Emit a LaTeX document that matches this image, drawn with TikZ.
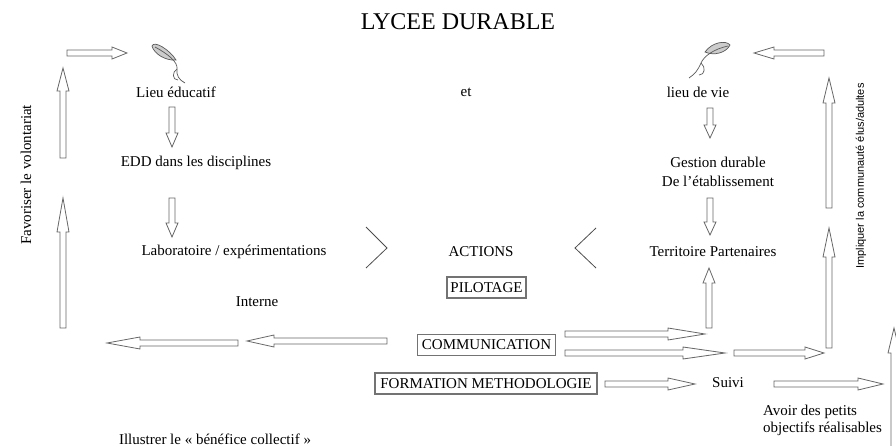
\documentclass[tikz,border=0pt]{standalone}
\usepackage{fontspec}
\setmainfont{Liberation Serif}
\newfontfamily\sansf{Liberation Sans}
% horizontal block arrow: tail x, tip x, y, head length
\newcommand\harr[4]{%
  \pgfmathsetmacro\hd{(#2>#1)?1:-1}%
  \pgfmathsetmacro\hb{#2-\hd*#4}%
  \draw[barr] (#1,#3-3) -- (\hb,#3-3) -- (\hb,#3-6) -- (#2,#3) -- (\hb,#3+6) -- (\hb,#3+3) -- (#1,#3+3) -- cycle;}
% vertical block arrow: tail y, tip y, x, head length
\newcommand\varr[4]{%
  \pgfmathsetmacro\vd{(#2>#1)?1:-1}%
  \pgfmathsetmacro\vb{#2-\vd*#4}%
  \draw[barr] (#3-3,#1) -- (#3-3,\vb) -- (#3-6,\vb) -- (#3,#2) -- (#3+6,\vb) -- (#3+3,\vb) -- (#3+3,#1) -- cycle;}
\begin{document}
\begin{tikzpicture}[x=1pt,y=-1pt,
  txt/.style={font=\fontsize{15}{19}\selectfont, inner sep=0pt},
  boxed/.style={draw=black!55, line width=1.1pt, inner sep=0pt, minimum height=21pt, font=\fontsize{15}{18}\selectfont},
  barr/.style={draw=black!60, line width=0.8pt, fill=white, line join=miter},
  chev/.style={draw=black!70, line width=0.8pt},
  quill/.style={draw=black!65, line width=0.7pt},
  blade/.style={draw=black!65, fill=black!20, line width=0.7pt}]
\useasboundingbox (0,0) rectangle (896,446);
\clip (0,0) rectangle (896,446);

% texts
\node[txt, font=\fontsize{24}{28}\selectfont] (title) at (458,22) {LYCEE DURABLE};
\node[txt] (lieu) at (176,92) {Lieu éducatif};
\node[txt] (et) at (466,92) {et};
\node[txt] (vie) at (698,92) {lieu de vie};
\node[txt] (edd) at (196,163) {EDD dans les disciplines};
\node[txt, align=center] (gest) at (718,172) {Gestion durable\\ De l’établissement};
\node[txt] (labo) at (234,252) {Laboratoire / expérimentations};
\node[txt] (actions) at (481,252) {ACTIONS};
\node[txt] (terr) at (713,252) {Territoire Partenaires};
\node[boxed, minimum width=79pt] (pilot) at (486.5,287.5) {PILOTAGE};
\node[txt] (interne) at (257,302) {Interne};
\node[boxed, minimum width=138pt] (comm) at (486.5,345) {COMMUNICATION};
\node[boxed, minimum width=222pt] (form) at (486,383.5) {FORMATION METHODOLOGIE};
\node[txt] (suivi) at (728,383) {Suivi};
\node[txt, align=left, anchor=west, font=\fontsize{15}{17}\selectfont] (avoir) at (763,420) {Avoir des petits\\objectifs réalisables};
\node[txt] (illus) at (215,439) {Illustrer le « bénéfice collectif »};
\node[txt, rotate=90] (favo) at (26,175) {Favoriser le volontariat};
\node[txt, rotate=90, font=\sansf\fontsize{11}{13}\selectfont] (impl) at (861,176) {Impliquer la communauté élus/adultes};

% chevrons
\draw[chev] (366,227) -- (387,248) -- (366,268);
\draw[chev] (596,228) -- (575,248) -- (596,268);

% horizontal block arrows
\harr{67}{127}{53}{15}
\harr{824}{754}{53}{20}
\harr{387}{247}{341}{27}
\harr{238}{107}{343}{33}
\harr{565}{705}{334}{37}
\harr{565}{725}{353}{42}
\harr{734}{824}{353}{19}
\harr{605}{695}{384}{27}
\harr{774}{883}{384}{25}

% vertical block arrows
\varr{158}{68}{63}{23}
\varr{328}{198}{63}{34}
\varr{107}{147}{172}{14}
\varr{198}{237}{172}{14}
\varr{108}{138}{710}{13}
\varr{198}{235}{710}{13}
\varr{328}{268}{709}{15}
\varr{208}{78}{829}{25}
\varr{348}{228}{829}{29}
\varr{470}{328}{894}{25}

% quills
\draw[blade] (152,46) .. controls (154,40) and (170,50) .. (176,60) .. controls (166,61) and (154,54) .. (152,46) -- cycle;
\draw[quill] (155,47) .. controls (168,54) and (178,62) .. (177,69) .. controls (176,75) and (179,80) .. (185,83);
\draw[quill] (177,69) .. controls (172,72) and (172,80) .. (178,80);
\draw[blade] (730,45) .. controls (726,40) and (712,42) .. (705,52) .. controls (714,56) and (726,53) .. (730,45) -- cycle;
\draw[quill] (728,46) .. controls (714,49) and (704,56) .. (701,63) .. controls (698,70) and (695,74) .. (689,78);
\draw[quill] (701,63) .. controls (706,67) and (705,75) .. (699,75);
\end{tikzpicture}
\end{document}
